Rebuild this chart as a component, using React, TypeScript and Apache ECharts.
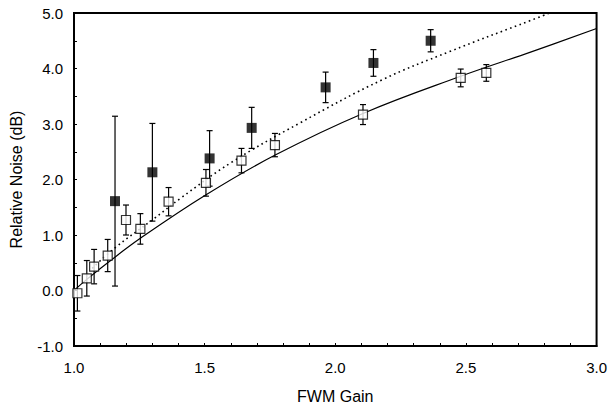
import React, { useEffect, useRef } from "react";
import * as echarts from "echarts";

// Open squares (measured)
const openX = [1.013, 1.049, 1.077, 1.129, 1.199, 1.254, 1.362, 1.505, 1.641, 1.769, 2.106, 2.48, 2.578];
const openY = [-0.05, 0.22, 0.43, 0.63, 1.27, 1.11, 1.6, 1.94, 2.34, 2.62, 3.17, 3.83, 3.92];
const openErr = [0.32, 0.32, 0.31, 0.29, 0.27, 0.275, 0.255, 0.24, 0.22, 0.21, 0.18, 0.16, 0.15];

// Filled squares
const filledX = [1.157, 1.3, 1.519, 1.68, 1.963, 2.146, 2.365];
const filledY = [1.61, 2.13, 2.38, 2.93, 3.66, 4.1, 4.5];
const filledErr = [1.53, 0.88, 0.5, 0.37, 0.275, 0.24, 0.2];

// Solid fitted curve
const solidX = [1.0, 1.049, 1.129, 1.254, 1.504, 1.77, 2.106, 2.48, 2.75, 3.0];
const solidY = [0.0, 0.2, 0.5, 0.94, 1.72, 2.44, 3.19, 3.86, 4.3, 4.72];

// Dotted fitted curve
const dottedX = [1.07, 1.157, 1.302, 1.41, 1.6, 1.865, 2.181, 2.435, 2.75, 2.82];
const dottedY = [0.4, 0.77, 1.28, 1.67, 2.3, 3.02, 3.8, 4.3, 4.87, 5.0];

const xTicks = { min: 1, max: 3, interval: 0.5 };
const yTicks = { min: -1, max: 5, interval: 1 };

export default function App() {
  const ref = useRef<HTMLDivElement>(null);
  useEffect(() => {
    if (!ref.current) return;
    const chart = echarts.init(ref.current, null, { renderer: "svg" });
    const font = "Liberation Sans, Arial, sans-serif";
    const errData = (xs: number[], ys: number[], es: number[]) =>
      xs.map((x, i) => [x, ys[i] - es[i], ys[i] + es[i]]);
    const errRender = (params: any, api: any) => {
      const x = api.value(0);
      const lo = api.coord([x, api.value(1)]);
      const hi = api.coord([x, api.value(2)]);
      const w = 3;
      const st = { stroke: "#000", lineWidth: 1.2 };
      return {
        type: "group",
        children: [
          { type: "line", shape: { x1: lo[0], y1: lo[1], x2: hi[0], y2: hi[1] }, style: st },
          { type: "line", shape: { x1: lo[0] - w, y1: lo[1], x2: lo[0] + w, y2: lo[1] }, style: st },
          { type: "line", shape: { x1: hi[0] - w, y1: hi[1], x2: hi[0] + w, y2: hi[1] }, style: st },
        ],
      };
    };
    chart.setOption({
      animation: false,
      backgroundColor: "#fff",
      grid: {
        left: 72,
        right: 11,
        top: 13,
        bottom: 62,
        show: true,
        borderColor: "#000",
        borderWidth: 2,
        backgroundColor: "transparent",
      },
      xAxis: {
        type: "value",
        min: xTicks.min,
        max: xTicks.max,
        interval: xTicks.interval,
        name: "FWM Gain",
        nameLocation: "middle",
        nameGap: 42,
        nameTextStyle: { fontFamily: font, fontSize: 16, color: "#000" },
        axisLine: { show: true, onZero: false, lineStyle: { color: "#000", width: 2 } },
        axisTick: { show: true, inside: true, length: 3, lineStyle: { color: "#000" } },
        minorTick: { show: true, splitNumber: 5, length: 3, lineStyle: { color: "#000" } },
        splitLine: { show: false },
        axisLabel: {
          fontFamily: font,
          fontSize: 15,
          color: "#000",
          margin: 14,
          formatter: (v: number) => v.toFixed(1),
        },
      },
      yAxis: {
        type: "value",
        min: yTicks.min,
        max: yTicks.max,
        interval: yTicks.interval,
        name: "Relative Noise (dB)",
        nameLocation: "middle",
        nameGap: 50,
        nameTextStyle: { fontFamily: font, fontSize: 16, color: "#000" },
        axisLine: { show: true, onZero: false, lineStyle: { color: "#000", width: 2 } },
        axisTick: { show: true, inside: true, length: 3, lineStyle: { color: "#000" } },
        minorTick: { show: true, splitNumber: 2, length: 3, lineStyle: { color: "#000" } },
        splitLine: { show: false },
        axisLabel: {
          fontFamily: font,
          fontSize: 15,
          color: "#000",
          margin: 11,
          formatter: (v: number) => v.toFixed(1),
        },
      },
      series: [
        {
          type: "line",
          data: solidX.map((x, i) => [x, solidY[i]]),
          smooth: 0.4,
          showSymbol: false,
          lineStyle: { color: "#000", width: 1.2 },
          z: 1,
        },
        {
          type: "line",
          data: dottedX.map((x, i) => [x, dottedY[i]]),
          smooth: 0.4,
          showSymbol: false,
          lineStyle: { color: "#000", width: 1.6, type: [1.6, 3.4] },
          z: 1,
        },
        {
          type: "custom",
          renderItem: errRender,
          data: errData(openX, openY, openErr),
          z: 2,
        },
        {
          type: "custom",
          renderItem: errRender,
          data: errData(filledX, filledY, filledErr),
          z: 2,
        },
        {
          type: "scatter",
          symbol: "rect",
          symbolSize: 9,
          data: openX.map((x, i) => [x, openY[i]]),
          itemStyle: { color: "#fff", borderColor: "#000", borderWidth: 1.2 },
          z: 3,
        },
        {
          type: "scatter",
          symbol: "rect",
          symbolSize: 10,
          data: filledX.map((x, i) => [x, filledY[i]]),
          itemStyle: { color: "#000" },
          z: 3,
        },
      ],
    });
    return () => chart.dispose();
  }, []);
  return (
    <div
      ref={ref}
      style={{ position: "fixed", left: 0, top: 0, width: 610, height: 409, background: "#fff" }}
    />
  );
}
